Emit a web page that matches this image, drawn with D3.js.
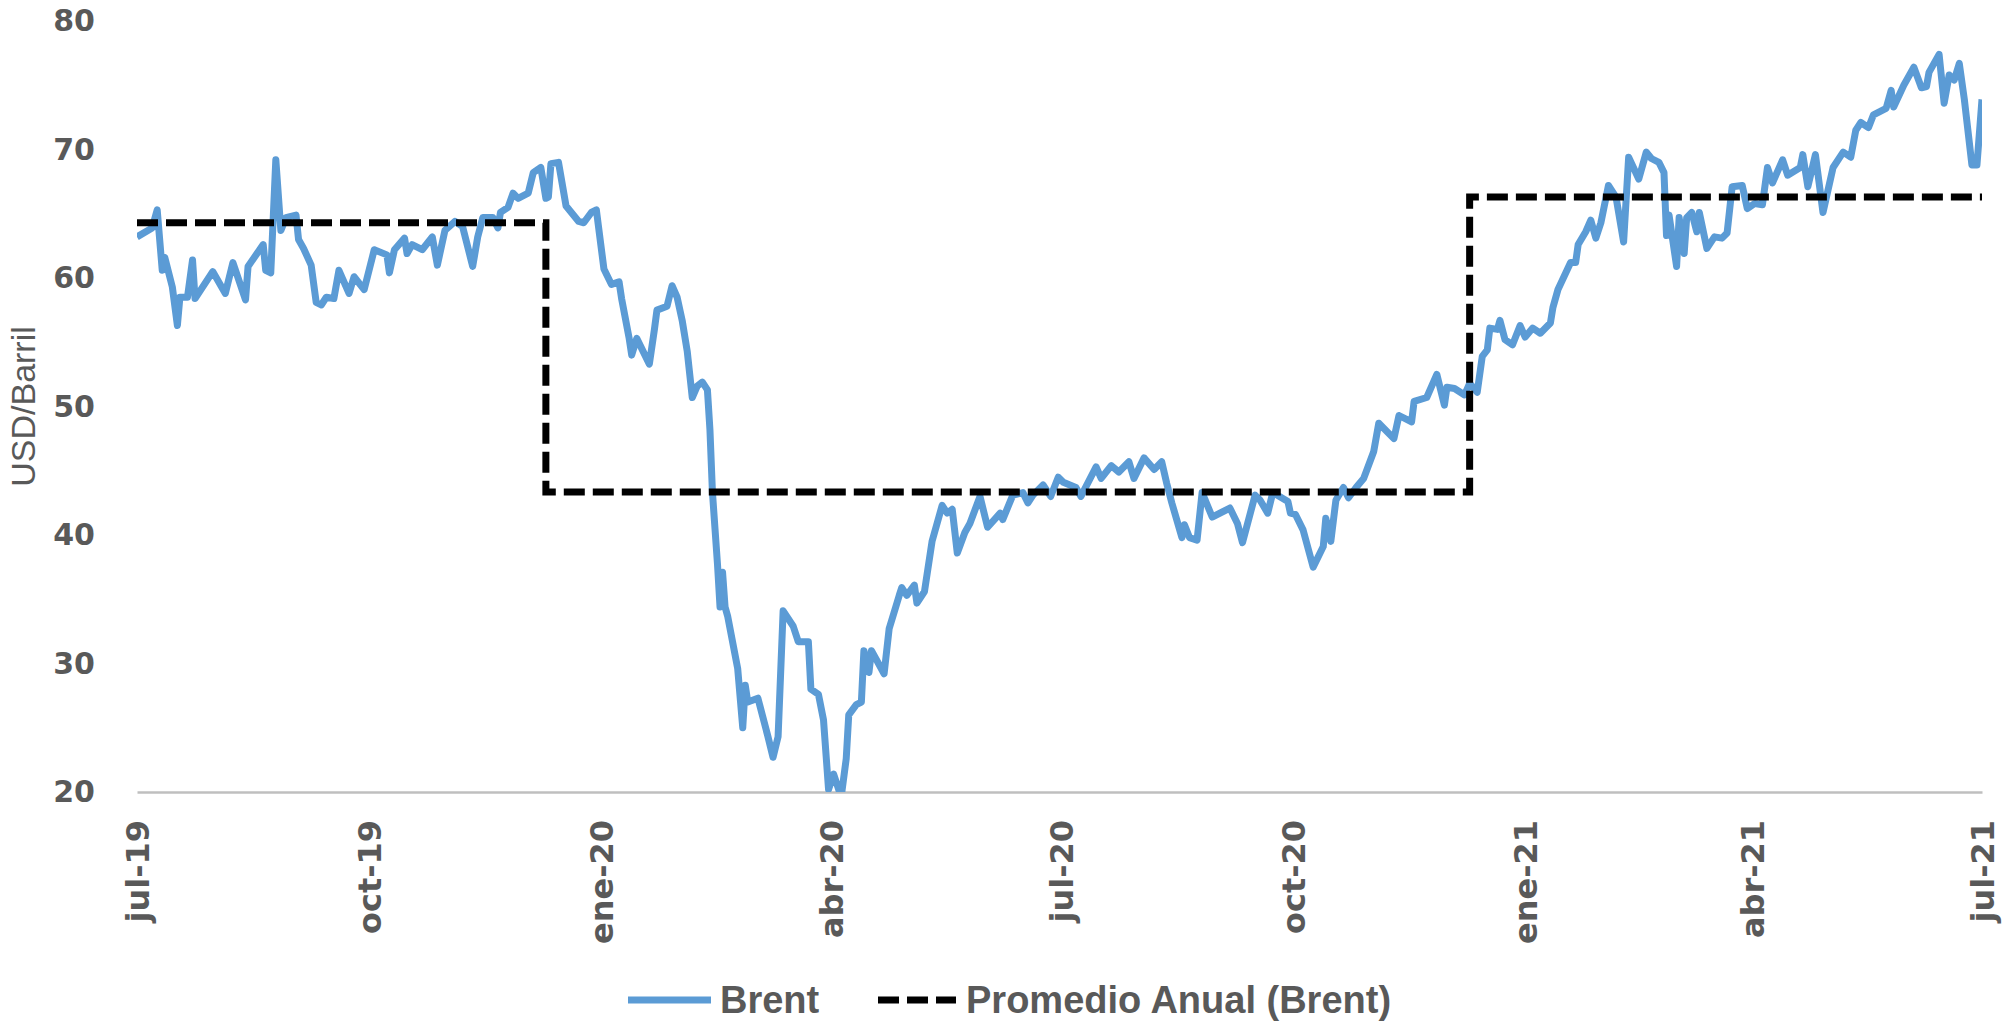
<!DOCTYPE html>
<html>
<head>
<meta charset="utf-8">
<script src="https://cdn.jsdelivr.net/npm/d3@7"></script>
<style>
  html, body { margin: 0; padding: 0; background: #fff; }
  svg { display: block; }
</style>
</head>
<body>
<svg id="chart"></svg>
<script>
// Brent daily-ish series, positions given as days from jul-19
const brentDays = [
  0, 6, 8, 10, 11, 14, 16, 17, 20, 22, 23, 30, 35, 38, 43, 44, 50, 51, 53, 55,
  57, 59, 63, 64, 66, 69, 71, 73, 75, 78, 80, 84, 86, 90, 94, 99, 100, 102, 106, 107,
  109, 113, 117, 119, 122, 126, 129, 133, 135, 137, 141, 143, 144, 147, 149, 151, 155, 157, 160, 162,
  163, 164, 167, 170, 175, 177, 180, 182, 185, 188, 191, 192, 195, 196, 198, 203, 205, 206, 210, 212,
  214, 216, 218, 220, 222, 224, 226, 227, 228, 230, 231, 232, 233, 234, 238, 240, 241, 242, 246, 250,
  252, 254, 256, 260, 262, 266, 267, 270, 272, 274, 276, 279, 281, 282, 285, 287, 288, 290, 291, 296,
  298, 302, 303, 305, 308, 309, 312, 315, 319, 321, 323, 325, 328, 330, 334, 337, 342, 343, 347, 351,
  353, 355, 359, 362, 365, 367, 372, 374, 380, 382, 386, 389, 393, 395, 399, 403, 406, 408, 410, 414,
  415, 417, 420, 422, 426, 433, 436, 438, 443, 445, 448, 450, 456, 457, 459, 462, 466, 470, 471, 473,
  475, 478, 480, 483, 486, 490, 492, 498, 500, 505, 506, 511, 515, 518, 519, 522, 526, 528, 531, 533,
  535, 536, 539, 540, 542, 545, 548, 550, 553, 556, 560, 561, 563, 568, 570, 571, 574, 576, 578, 580,
  583, 586, 589, 591, 595, 598, 600, 603, 605, 606, 607, 610, 611, 613, 614, 616, 618, 619, 622, 625,
  628, 630, 632, 636, 638, 641, 644, 646, 648, 652, 654, 659, 660, 662, 665, 668, 672, 676, 679, 681,
  683, 686, 688, 693, 695, 696, 700, 704, 707, 709, 710, 714, 716, 718, 720, 722, 724, 727, 729, 731
];
const brentValues = [
  63.2, 63.9, 65.3, 60.6, 61.6, 59.3, 56.3, 58.5, 58.5, 61.4, 58.4, 60.5, 58.8, 61.2, 58.3, 60.9, 62.6, 60.6, 60.4, 69.2,
  63.7, 64.7, 64.9, 63.0, 62.3, 61.0, 58.1, 57.9, 58.5, 58.4, 60.6, 58.8, 60.1, 59.1, 62.2, 61.8, 60.4, 62.2, 63.1, 61.9,
  62.6, 62.2, 63.2, 61.0, 63.7, 64.4, 64.0, 60.9, 63.2, 64.7, 64.7, 63.9, 65.1, 65.5, 66.6, 66.2, 66.6, 68.2, 68.6, 66.2,
  66.3, 68.9, 69.0, 65.6, 64.4, 64.3, 65.1, 65.3, 60.7, 59.5, 59.7, 58.4, 55.3, 54.0, 55.3, 53.3, 56.0, 57.5, 57.8, 59.4,
  58.5, 56.7, 54.3, 50.7, 51.6, 51.9, 51.3, 48.2, 43.3, 37.7, 34.4, 37.1, 34.4, 33.7, 29.6, 25.0, 28.3, 27.0, 27.3, 24.3,
  22.7, 24.3, 34.1, 32.9, 31.7, 31.7, 28.0, 27.6, 25.6, 20.2, 21.4, 19.6, 22.6, 26.0, 26.8, 27.0, 31.0, 29.3, 31.0, 29.2,
  32.7, 35.3, 35.9, 35.3, 36.1, 34.7, 35.6, 39.5, 42.3, 41.7, 42.0, 38.6, 40.2, 40.9, 43.0, 40.6, 41.7, 41.2, 43.1, 43.3,
  42.5, 43.1, 43.9, 43.0, 44.5, 44.1, 43.7, 43.0, 45.3, 44.4, 45.4, 44.9, 45.7, 44.4, 46.0, 45.1, 45.7, 44.0, 42.5, 39.8,
  40.8, 39.8, 39.6, 43.3, 41.4, 42.1, 40.9, 39.4, 43.1, 42.7, 41.7, 43.3, 42.6, 41.7, 41.6, 40.4, 37.5, 39.1, 41.3, 39.5,
  42.7, 43.7, 42.9, 43.7, 44.4, 46.5, 48.7, 47.5, 49.3, 48.8, 50.4, 50.7, 52.5, 50.1, 51.5, 51.4, 50.9, 51.8, 51.1, 53.9,
  54.4, 56.1, 56.0, 56.7, 55.2, 54.8, 56.3, 55.4, 56.1, 55.7, 56.5, 57.7, 59.1, 61.2, 61.2, 62.6, 63.6, 64.5, 63.1, 64.3,
  67.2, 66.3, 62.8, 69.4, 67.7, 69.8, 69.3, 69.0, 68.2, 63.3, 64.9, 60.9, 64.7, 61.9, 64.7, 65.1, 63.6, 65.1, 62.3, 63.2,
  63.1, 63.5, 67.1, 67.2, 65.4, 65.8, 65.7, 68.6, 67.4, 69.2, 68.0, 68.6, 69.6, 67.1, 69.6, 65.1, 68.6, 69.8, 69.4, 71.5,
  72.1, 71.7, 72.7, 73.2, 74.6, 73.3, 75.0, 76.4, 74.8, 74.9, 76.0, 77.4, 73.6, 75.8, 75.4, 76.7, 73.9, 68.8, 68.8, 73.9
];

// annual average (step line)
const avgDays = [0, 162, 162, 528, 528, 731];
const avgValues = [64.3, 64.3, 43.35, 43.35, 66.3, 66.3];

const xTickLabels = ["jul-19", "oct-19", "ene-20", "abr-20", "jul-20", "oct-20", "ene-21", "abr-21", "jul-21"];
const yTicks = [20, 30, 40, 50, 60, 70, 80];

const seriesNames = ["Brent", "Promedio Anual (Brent)"];

const width = 2005, height = 1024;
const margin = { top: 21, right: 23, bottom: 232, left: 137 };
const start = new Date(Date.UTC(2019, 6, 1));
const toDate = d => d3.utcDay.offset(start, d);

const svg = d3.select("#chart")
  .attr("width", width)
  .attr("height", height);

const x = d3.scaleUtc()
  .domain([start, d3.utcMonth.offset(start, 24)])
  .range([margin.left, width - margin.right]);

const y = d3.scaleLinear()
  .domain([20, 80])
  .range([height - margin.bottom, margin.top]);

const brent = brentDays.map((d, i) => ({ date: toDate(d), value: brentValues[i] }));
const avg = avgDays.map((d, i) => ({ date: toDate(d), value: avgValues[i] }));
const tickDates = xTickLabels.map((_, i) => d3.utcMonth.offset(start, 3 * i));

const grey = "#595959";

// clip to plot area (the april 2020 dip runs under the axis)
svg.append("clipPath").attr("id", "plot")
  .append("rect")
  .attr("x", margin.left).attr("y", 0)
  .attr("width", width - margin.right - margin.left)
  .attr("height", height - margin.bottom);

// x axis
const xAxis = svg.append("g")
  .attr("transform", `translate(0,${height - margin.bottom})`)
  .call(d3.axisBottom(x)
    .tickValues(tickDates)
    .tickFormat((d, i) => xTickLabels[i])
    .tickSize(0));

xAxis.select(".domain")
  .attr("stroke", "#BFBFBF")
  .attr("stroke-width", 2.5);

xAxis.selectAll("text")
  .attr("transform", "rotate(-90)")
  .attr("text-anchor", "end")
  .attr("x", -28)
  .attr("y", 0)
  .attr("dy", "0.36em")
  .attr("fill", grey)
  .style("font-family", "'DejaVu Sans', Verdana, sans-serif")
  .style("font-weight", "bold")
  .style("font-size", "32px");

// y axis
const yAxis = svg.append("g")
  .attr("transform", `translate(${margin.left},0)`)
  .call(d3.axisLeft(y).tickValues(yTicks).tickSize(0).tickPadding(42));

yAxis.select(".domain").remove();
yAxis.selectAll("text")
  .attr("fill", grey)
  .style("font-family", "'DejaVu Sans', Verdana, sans-serif")
  .style("font-weight", "bold")
  .style("font-size", "30px");

svg.append("text")
  .attr("transform", `translate(35,${(y(20) + y(80)) / 2}) rotate(-90)`)
  .attr("text-anchor", "middle")
  .attr("fill", grey)
  .style("font-family", "'Liberation Sans', Arial, sans-serif")
  .style("font-size", "34px")
  .text("USD/Barril");

// lines
const line = d3.line()
  .x(d => x(d.date))
  .y(d => y(d.value));

const plot = svg.append("g").attr("clip-path", "url(#plot)");

plot.append("path")
  .datum(brent)
  .attr("fill", "none")
  .attr("stroke", "#5B9BD5")
  .attr("stroke-width", 7)
  .attr("stroke-linejoin", "round")
  .attr("d", line);

svg.append("path")
  .datum(avg)
  .attr("fill", "none")
  .attr("stroke", "#000")
  .attr("stroke-width", 7)
  .attr("stroke-dasharray", "21,8")
  .attr("d", line);

// legend
const legend = svg.append("g").attr("transform", "translate(0,1000)");
const legendItems = [
  { x0: 628, x1: 711, tx: 720, color: "#5B9BD5", dash: null, w: 7 },
  { x0: 878, x1: 956, tx: 966, color: "#000", dash: "21,8", w: 7 }
];
legendItems.forEach((it, i) => {
  legend.append("line")
    .attr("x1", it.x0).attr("x2", it.x1)
    .attr("y1", 0).attr("y2", 0)
    .attr("stroke", it.color)
    .attr("stroke-width", it.w)
    .attr("stroke-dasharray", it.dash);
  legend.append("text")
    .attr("x", it.tx)
    .attr("y", 0)
    .attr("dy", "0.35em")
    .attr("fill", grey)
    .style("font-family", "'Liberation Sans', Arial, sans-serif")
    .style("font-weight", "bold")
    .style("font-size", "38px")
    .text(seriesNames[i]);
});
</script>
</body>
</html>
